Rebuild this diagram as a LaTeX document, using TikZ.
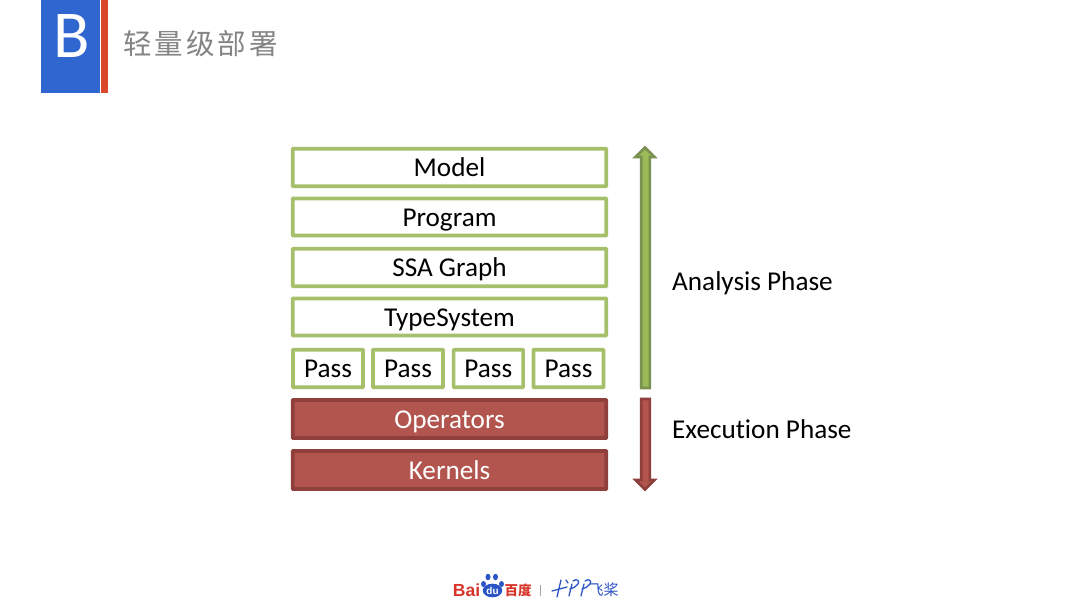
\documentclass[tikz,border=0pt]{standalone}
\usepackage{fontspec}
\setmainfont[Ligatures={NoCommon}]{Carlito}
\newfontfamily\cjk{Noto Sans CJK SC}
\newfontfamily\logosans{Liberation Sans}
\definecolor{gfill}{HTML}{9BBB59}
\definecolor{gline}{HTML}{A5BF6B}
\definecolor{gdark}{HTML}{7A9150}
\definecolor{rfill}{HTML}{B2554E}
\definecolor{rdark}{HTML}{8F3F3C}
\definecolor{bblue}{HTML}{2F66D0}
\definecolor{borange}{HTML}{D9482A}
\definecolor{titlegray}{HTML}{848484}
\definecolor{baidured}{HTML}{D8352A}
\definecolor{paddleblue}{HTML}{2B55C5}
\tikzset{
  x=1pt,y=-1pt,
  boxtext/.style={font=\fontsize{27.2}{29}\selectfont,inner sep=0pt,rounded corners=0.5pt},
  lightbox/.style={boxtext,draw=gline,line width=3.6pt,fill=white,text=black,text height=19pt,text depth=0.4pt},
  lowbox/.style={lightbox,text height=18.6pt,text depth=0.6pt},
  redbox/.style={boxtext,draw=rdark,line width=3.6pt,fill=rfill,text=white,text height=19pt,text depth=0.6pt},
  sidelabel/.style={anchor=base west,text=black,font=\fontsize{27.2}{29}\selectfont,inner sep=0pt},
  greenarrow/.style={draw=gdark,line width=2.6pt,fill=gfill,line join=miter},
  redarrow/.style={draw=rdark,line width=2.6pt,fill=rfill,line join=miter},
  logotext/.style={inner sep=0pt,anchor=center},
  pstroke/.style={draw=paddleblue,line width=1.3pt,line cap=round},
}
\begin{document}
\begin{tikzpicture}
\useasboundingbox (0,0) rectangle (1080,608);
\fill[white] (0,0) rectangle (1080,608);
% header
\fill[bblue] (41,0) rectangle (99.5,93);
\fill[borange] (101,0) rectangle (107.5,93);
\node[inner sep=0pt,text=white,font=\fontsize{67}{67}\selectfont] (letterb) at (71.5,36) {B};
\node[inner sep=0pt,anchor=west,text=titlegray,font={\cjk\fontsize{28.5}{30}\selectfont}] (title) at (123,44) {轻\kern3pt量\kern3pt级\kern3pt部\kern3pt署};
% green boxes
\node[lightbox,minimum width=313.5pt,minimum height=37.5pt] (model) at (449.5,167.5) {Model};
\node[lightbox,minimum width=313.5pt,minimum height=37pt] (program) at (449.5,217) {Program};
\node[lightbox,minimum width=313.5pt,minimum height=37.5pt] (ssa) at (449.5,267.5) {SSA Graph};
\node[lightbox,minimum width=313.5pt,minimum height=37pt] (types) at (449.5,317) {TypeSystem};
\node[lowbox,minimum width=70pt,minimum height=37.5pt] (pass1) at (328,368.5) {Pass};
\node[lowbox,minimum width=70pt,minimum height=37.5pt] (pass2) at (408,368.5) {Pass};
\node[lowbox,minimum width=69.5pt,minimum height=37.5pt] (pass3) at (488.3,368.5) {Pass};
\node[lowbox,minimum width=70pt,minimum height=37.5pt] (pass4) at (568.5,368.5) {Pass};
% red boxes
\node[redbox,minimum width=313.5pt,minimum height=38pt] (ops) at (449.5,419) {Operators};
\node[redbox,minimum width=313.5pt,minimum height=38pt] (kernels) at (449.5,470) {Kernels};
% arrows
\draw[greenarrow] (641.2,388) -- (641.2,157) -- (635.5,157) -- (645,147.5) -- (654.5,157) -- (649.8,157) -- (649.8,388) -- cycle;
\draw[redarrow] (641.2,399) -- (641.2,480) -- (635.5,480) -- (645,489.5) -- (654.5,480) -- (649.8,480) -- (649.8,399) -- cycle;
% labels
\node[sidelabel] (analysis) at (672,290) {Analysis Phase};
\node[sidelabel] (execution) at (672,438) {Execution Phase};
% logo
\node[logotext,text=baidured,font={\logosans\bfseries\fontsize{17.5}{18}\selectfont}] (bai) at (466.5,590) {Bai};
\fill[paddleblue] (492.5,590.5) ellipse (9.8 and 6.8);
\fill[paddleblue] (483.5,584) ellipse (2.5 and 3);
\fill[paddleblue] (488,577) ellipse (2.5 and 3.2);
\fill[paddleblue] (495.5,577) ellipse (2.5 and 3.2);
\fill[paddleblue] (501.5,584) ellipse (2.5 and 3);
\node[logotext,text=white,font={\logosans\bfseries\fontsize{10}{10}\selectfont}] (du) at (492.5,591) {du};
\node[logotext,text=baidured,font={\cjk\bfseries\fontsize{13.5}{14}\selectfont}] (baidu) at (518,590) {百度};
\draw[gray!70,line width=0.7pt] (540.5,585) -- (540.5,596);
\draw[pstroke] (552,591) -- (567,587);
\draw[pstroke] (561,580) -- (557,597);
\draw[pstroke] (566,580) -- (568,583);
\draw[pstroke] (572,584) -- (569,596);
\draw[pstroke] (573,581) .. controls (577,578) and (580,581) .. (578,584) .. controls (576,587) and (573,588) .. (570,589);
\draw[pstroke] (584,584) -- (581,596);
\draw[pstroke] (585,581) .. controls (589,578) and (592,581) .. (590,584) .. controls (588,587) and (585,588) .. (582,589);
\node[logotext,text=paddleblue,font={\cjk\fontsize{15}{15}\selectfont}] (feijiang) at (603.5,590) {飞桨};
\end{tikzpicture}
\end{document}
